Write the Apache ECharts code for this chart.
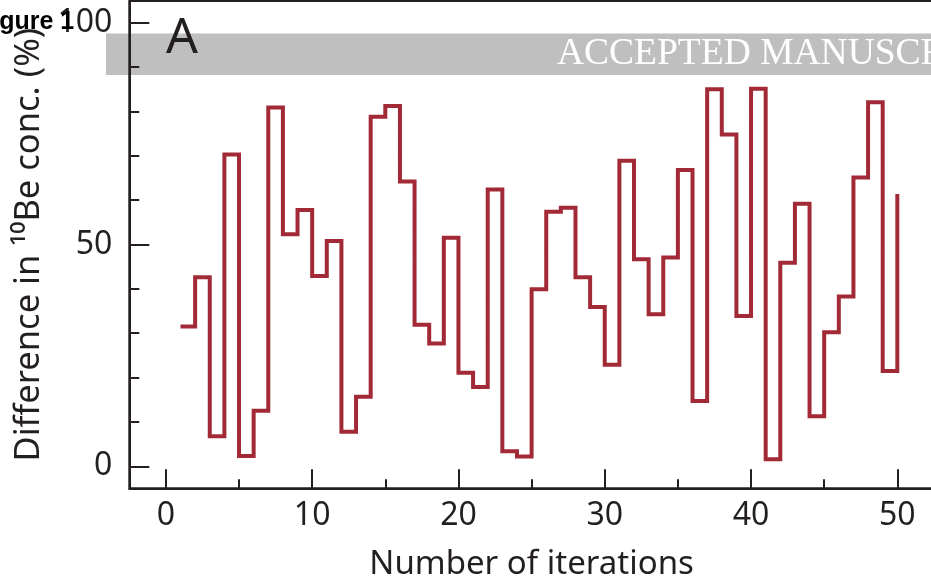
<!DOCTYPE html>
<html>
<head>
<meta charset="utf-8">
<script src="https://cdn.jsdelivr.net/npm/echarts@6/dist/echarts.min.js"></script>
<style>
  html, body { margin: 0; padding: 0; background: #ffffff; }
  #chart { width: 931px; height: 581px; }
</style>
</head>
<body>
<div id="chart"></div>
<script>
// ---- data ----
const iterations = [1, 2, 3, 4, 5, 6, 7, 8, 9, 10,
                    11, 12, 13, 14, 15, 16, 17, 18, 19, 20,
                    21, 22, 23, 24, 25, 26, 27, 28, 29, 30,
                    31, 32, 33, 34, 35, 36, 37, 38, 39, 40,
                    41, 42, 43, 44, 45, 46, 47, 48, 49, 50];
const differencePct = [31.5, 42.6, 6.8, 70.3, 2.3, 12.5, 80.9, 52.3, 57.8, 42.9,
                       50.8, 7.8, 15.7, 78.8, 81.2, 64.2, 31.9, 27.7, 51.5, 21.1,
                       17.9, 62.4, 3.4, 2.2, 39.9, 57.4, 58.3, 42.6, 35.9, 22.9,
                       68.9, 46.7, 34.3, 47.1, 66.8, 14.7, 85.0, 74.8, 33.9, 85.1,
                       1.6, 45.9, 59.2, 11.3, 30.2, 38.3, 65.1, 82.1, 21.5, 61.4];
const xMajorTicks = [0, 10, 20, 30, 40, 50];
const xMinorTicks = [5, 15, 25, 35, 45];
const yMajorTicks = [0, 50, 100];
const yMinorTicks = [10, 20, 30, 40, 60, 70, 80, 90];
const xTitle = 'Number of iterations';
const yTitle = 'Difference in ¹⁰Be conc. (%)';
const panelLabel = 'A';
const figureLabel = 'Figure 1';
const watermark = 'ACCEPTED MANUSCRIPT';

// ---- styling ----
const ink = '#231f20';
const lineRed = '#a22a37';
const FONT = '"Noto Sans", "Open Sans", sans-serif';

const X_MIN = -2.5, X_MAX = 52.5;
const Y_MIN = -4.96, Y_MAX = 104.9;

const chart = echarts.init(document.getElementById('chart'), null, { renderer: 'canvas' });

function xAxisDef(ticks, len, withLabels) {
  return {
    type: 'value', min: X_MIN, max: X_MAX, position: 'bottom',
    name: withLabels ? xTitle : '',
    nameLocation: 'middle', nameGap: 59.5,
    nameTextStyle: { fontFamily: FONT, fontSize: 33, color: ink },
    axisLine: { show: withLabels, onZero: false, lineStyle: { color: ink, width: 2 } },
    axisTick: { show: true, inside: true, length: len, customValues: ticks,
                lineStyle: { color: ink, width: 2 } },
    axisLabel: { show: withLabels, customValues: ticks, margin: 12,
                 fontFamily: FONT, fontSize: 32, color: ink },
    splitLine: { show: false }
  };
}
function yAxisDef(ticks, len, withLabels) {
  return {
    type: 'value', min: Y_MIN, max: Y_MAX, position: 'left',
    name: withLabels ? yTitle : '',
    nameLocation: 'middle', nameGap: 73.5,
    nameTextStyle: { fontFamily: FONT, fontSize: 34.5, color: ink },
    axisLine: { show: withLabels, onZero: false, lineStyle: { color: ink, width: 2 } },
    axisTick: { show: true, inside: true, length: len, customValues: ticks,
                lineStyle: { color: ink, width: 2 } },
    axisLabel: { show: withLabels, customValues: ticks, margin: 17, padding: [4, 0, 0, 0],
                 fontFamily: FONT, fontSize: 32, color: ink },
    splitLine: { show: false }
  };
}

const option = {
  animation: false,
  backgroundColor: '#ffffff',
  grid: {
    left: 129.3, top: 1, right: -2.9, bottom: 92.7,
    outerBoundsMode: 'none', containLabel: false,
    show: true, borderColor: ink, borderWidth: 2, backgroundColor: 'transparent'
  },
  xAxis: [xAxisDef(xMajorTicks, 19, true), xAxisDef(xMinorTicks, 9, false)],
  yAxis: [yAxisDef(yMajorTicks, 20, true), yAxisDef(yMinorTicks, 10, false)],
  series: [{
    type: 'line',
    xAxisIndex: 0, yAxisIndex: 0,
    step: 'end',
    data: iterations.map((x, i) => [x, differencePct[i]]),
    showSymbol: false, symbol: 'none',
    lineStyle: { color: lineRed, width: 4, join: 'miter', cap: 'butt' },
    z: 5
  }],
  graphic: [
    { type: 'rect', z: -10, shape: { x: 106, y: 33.5, width: 900, height: 41.5 },
      style: { fill: '#bfbfbf' } },
    { type: 'text', z: -9, x: 557, y: 54,
      style: { text: watermark, fill: '#ffffff', fontFamily: '"Liberation Serif", "Times New Roman", serif',
               fontSize: 37.5, verticalAlign: 'middle', align: 'left' } },
    { type: 'text', z: 20, x: 166, y: 39,
      style: { text: panelLabel, fill: ink, fontFamily: FONT, fontSize: 50,
               verticalAlign: 'middle', align: 'left' } },
    { type: 'text', z: 20, x: -23, y: 22,
      style: { text: figureLabel, fill: '#000000', fontFamily: '"Liberation Sans", Arial, sans-serif',
               fontSize: 25, fontWeight: 'bold', verticalAlign: 'middle', align: 'left' } }
  ]
};
chart.setOption(option);
</script>
</body>
</html>
